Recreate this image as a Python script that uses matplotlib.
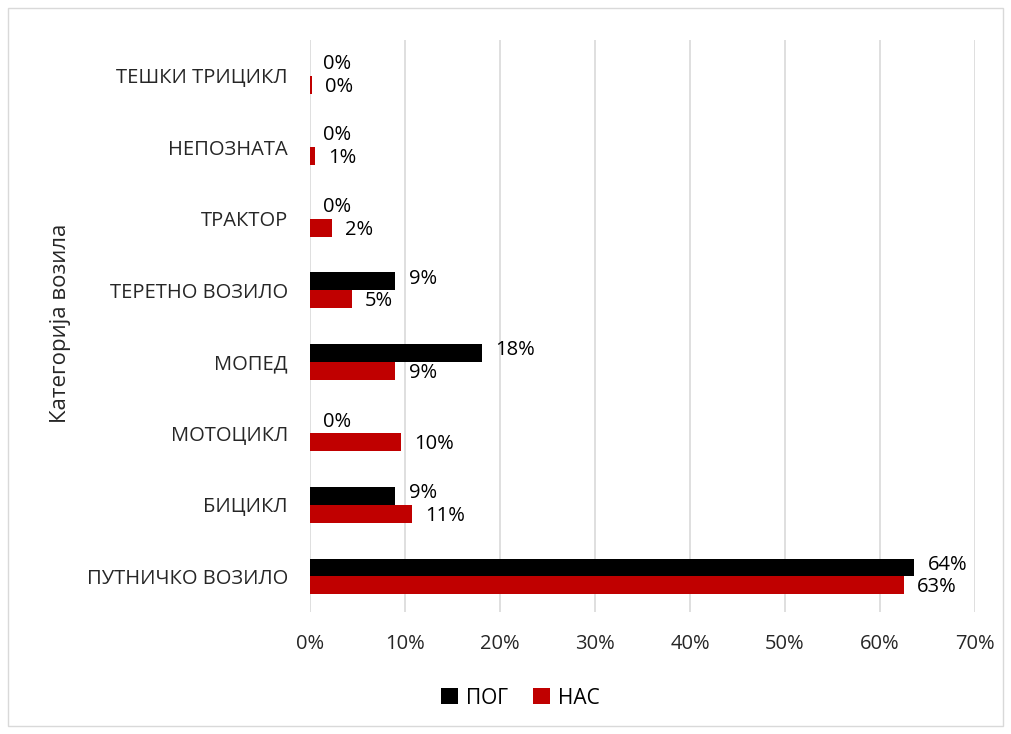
import matplotlib.pyplot as plt
import numpy as np
from matplotlib.patches import Rectangle

categories = ['ПУТНИЧКО ВОЗИЛО', 'БИЦИКЛ', 'МОТОЦИКЛ', 'МОПЕД',
              'ТЕРЕТНО ВОЗИЛО', 'ТРАКТОР', 'НЕПОЗНАТА', 'ТЕШКИ ТРИЦИКЛ']
pog = [63.6, 9.0, 0.0, 18.1, 9.0, 0.0, 0.0, 0.0]
nas = [62.5, 10.7, 9.6, 9.0, 4.4, 2.3, 0.5, 0.2]
pog_labels = ['64%', '9%', '0%', '18%', '9%', '0%', '0%', '0%']
nas_labels = ['63%', '11%', '10%', '9%', '5%', '2%', '1%', '0%']

plt.rcParams['font.family'] = ['Open Sans', 'DejaVu Sans']
text_col = '#262626'

fig = plt.figure(figsize=(10.11, 7.34), dpi=100)
ax = fig.add_axes([0.3066, 0.166, 0.6578, 0.7795])

# outer chart border
fig.patches.append(Rectangle((0.008, 0.011), 0.984, 0.978, transform=fig.transFigure,
                             fill=False, edgecolor='#d9d9d9', linewidth=1))

y = np.arange(len(categories))
h = 0.25
ax.barh(y + h / 2, pog, height=h, color='#000000', label='ПОГ', zorder=3)
ax.barh(y - h / 2, nas, height=h, color='#c00000', label='НАС', zorder=3)

for i in range(len(categories)):
    ax.text(pog[i] + 1.4, y[i] + h / 2 + 0.04, pog_labels[i], va='center', ha='left',
            fontsize=14.5, color='black')
    ax.text(nas[i] + 1.4, y[i] - h / 2 - 0.03, nas_labels[i], va='center', ha='left',
            fontsize=14.5, color='black')

ax.set_xlim(0, 70)
ax.set_ylim(-0.5, len(categories) - 0.5)
ax.set_xticks(np.arange(0, 71, 10))
ax.set_xticklabels([f'{v}%' for v in range(0, 71, 10)])
ax.set_yticks(y)
ax.set_yticklabels(categories)
ax.tick_params(axis='both', length=0, labelsize=14.5, colors=text_col)
ax.tick_params(axis='x', pad=16)
ax.tick_params(axis='y', pad=16)
ax.grid(axis='x', color='#d9d9d9', linewidth=1.2, zorder=0)
for s in ax.spines.values():
    s.set_visible(False)

fig.text(0.06, 0.56, 'Категорија возила', rotation=90, va='center', ha='center',
         fontsize=16, color=text_col)

fig.legend(loc='center', bbox_to_anchor=(0.515, 0.049), ncol=2, frameon=False,
           fontsize=15, handlelength=0.8, handleheight=0.8, handletextpad=0.4,
           columnspacing=1.2)

fig.savefig('out.png', dpi=100)
